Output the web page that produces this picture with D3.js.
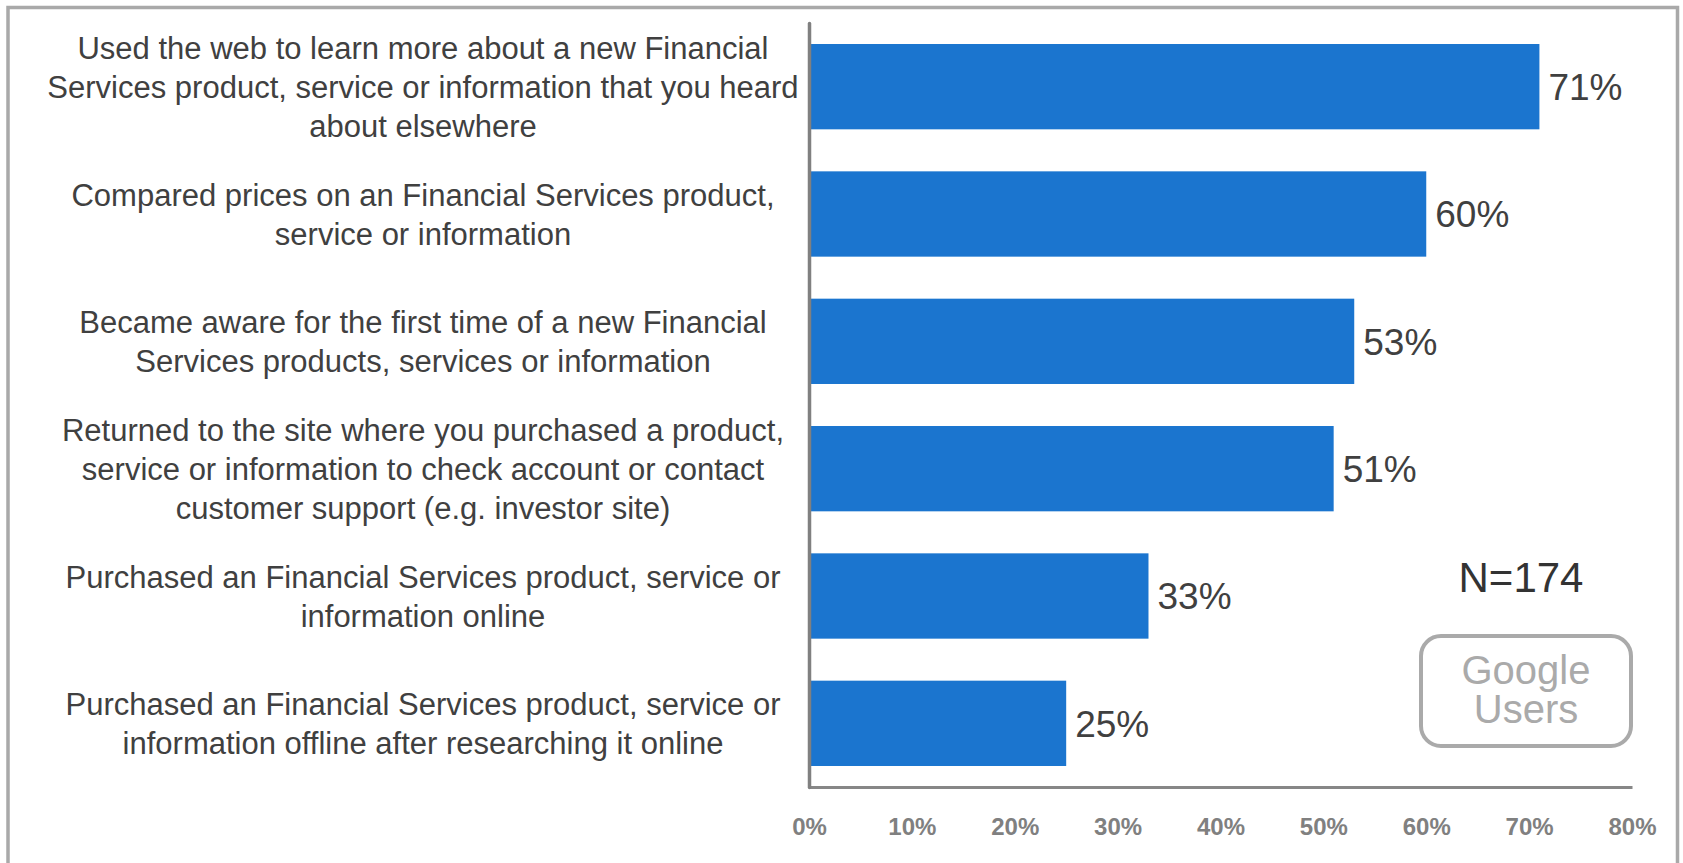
<!DOCTYPE html>
<html>
<head>
<meta charset="utf-8">
<script src="https://cdn.jsdelivr.net/npm/d3@7"></script>
<style>
  html, body { margin: 0; padding: 0; background: #fff; }
  svg { display: block; font-family: "Liberation Sans", Arial, sans-serif; }
</style>
</head>
<body>
<svg id="chart" width="1683" height="863"></svg>
<script>
// Online activities of Financial Services searchers (share of respondents)
const categories = [
  "Used the web to learn more about a new Financial\nServices product, service or information that you heard\nabout elsewhere",
  "Compared prices on an Financial Services product,\nservice or information",
  "Became aware for the first time of a new Financial\nServices products, services or information",
  "Returned to the site where you purchased a product,\nservice or information to check account or contact\ncustomer support (e.g. investor site)",
  "Purchased an Financial Services product, service or\ninformation online",
  "Purchased an Financial Services product, service or\ninformation offline after researching it online"
];
const values = [0.71, 0.60, 0.53, 0.51, 0.33, 0.25];
const xTicks = [0, 0.1, 0.2, 0.3, 0.4, 0.5, 0.6, 0.7, 0.8];
const sampleNote = "N=174";
const badgeLines = ["Google", "Users"];

const svg = d3.select("#chart");
const W = 1683, H = 863;

// outer frame (open at the bottom edge)
svg.append("path")
  .attr("d", `M8,${H + 5} L8,7.5 L1677.5,7.5 L1677.5,${H + 5}`)
  .attr("fill", "none")
  .attr("stroke", "#a9a9a9")
  .attr("stroke-width", 3.5);

const x = d3.scaleLinear().domain([0, 0.8]).range([809, 1632]);
const y = d3.scaleBand().domain(d3.range(categories.length))
  .range([23, 787]).paddingInner(0.33).paddingOuter(0.165);

// bars
svg.append("g").selectAll("rect")
  .data(values)
  .join("rect")
  .attr("x", x(0))
  .attr("y", (d, i) => y(i))
  .attr("width", d => x(d) - x(0))
  .attr("height", y.bandwidth())
  .attr("fill", "#1b75cf");

// value labels
svg.append("g").selectAll("text")
  .data(values)
  .join("text")
  .attr("x", d => x(d) + 9)
  .attr("y", (d, i) => y(i) + y.bandwidth() / 2)
  .attr("dy", "0.36em")
  .attr("font-size", 37)
  .attr("fill", "#404040")
  .text(d => d3.format(".0%")(d));

// x axis
const xAxis = svg.append("g")
  .attr("transform", "translate(0,787)")
  .call(d3.axisBottom(x).tickValues(xTicks).tickFormat(d3.format(".0%"))
    .tickSize(0).tickSizeOuter(0).tickPadding(31));
xAxis.select(".domain").attr("stroke", "#878787").attr("stroke-width", 3);
xAxis.selectAll("text")
  .attr("font-family", "'Liberation Sans', Arial, sans-serif")
  .attr("font-size", 24)
  .attr("font-weight", "bold")
  .attr("fill", "#808080");

// y axis line
const yAxis = svg.append("g")
  .attr("transform", `translate(${x(0)},0)`)
  .call(d3.axisLeft(y).tickSize(0).tickSizeOuter(0).tickFormat(""));
yAxis.select(".domain").attr("stroke", "#808080").attr("stroke-width", 3.5)
  .attr("stroke-linecap", "round");

// category labels, centered on each band
const lineH = 39;
const labels = svg.append("g")
  .attr("font-size", 31)
  .attr("fill", "#404040")
  .attr("text-anchor", "middle");
categories.forEach((c, i) => {
  const lines = c.split("\n");
  const cy = y(i) + y.bandwidth() / 2;
  const t = labels.append("text")
    .attr("x", 423)
    .attr("y", cy - (lines.length - 1) * lineH / 2);
  lines.forEach((l, k) => {
    t.append("tspan")
      .attr("x", 423)
      .attr("dy", k === 0 ? "0.36em" : lineH)
      .text(l);
  });
});

// sample size note
svg.append("text")
  .attr("x", 1521)
  .attr("y", 577)
  .attr("dy", "0.36em")
  .attr("text-anchor", "middle")
  .attr("font-size", 42)
  .attr("fill", "#333333")
  .text(sampleNote);

// audience badge
svg.append("rect")
  .attr("x", 1421).attr("y", 636)
  .attr("width", 210).attr("height", 110)
  .attr("rx", 20).attr("ry", 20)
  .attr("fill", "none")
  .attr("stroke", "#aaaaaa")
  .attr("stroke-width", 4);
const badge = svg.append("text")
  .attr("x", 1526)
  .attr("y", 670)
  .attr("text-anchor", "middle")
  .attr("font-size", 40)
  .attr("fill", "#aaaaaa");
badge.selectAll("tspan")
  .data(badgeLines)
  .join("tspan")
  .attr("x", 1526)
  .attr("dy", (d, i) => i === 0 ? "0.36em" : 39)
  .text(d => d);
</script>
</body>
</html>
